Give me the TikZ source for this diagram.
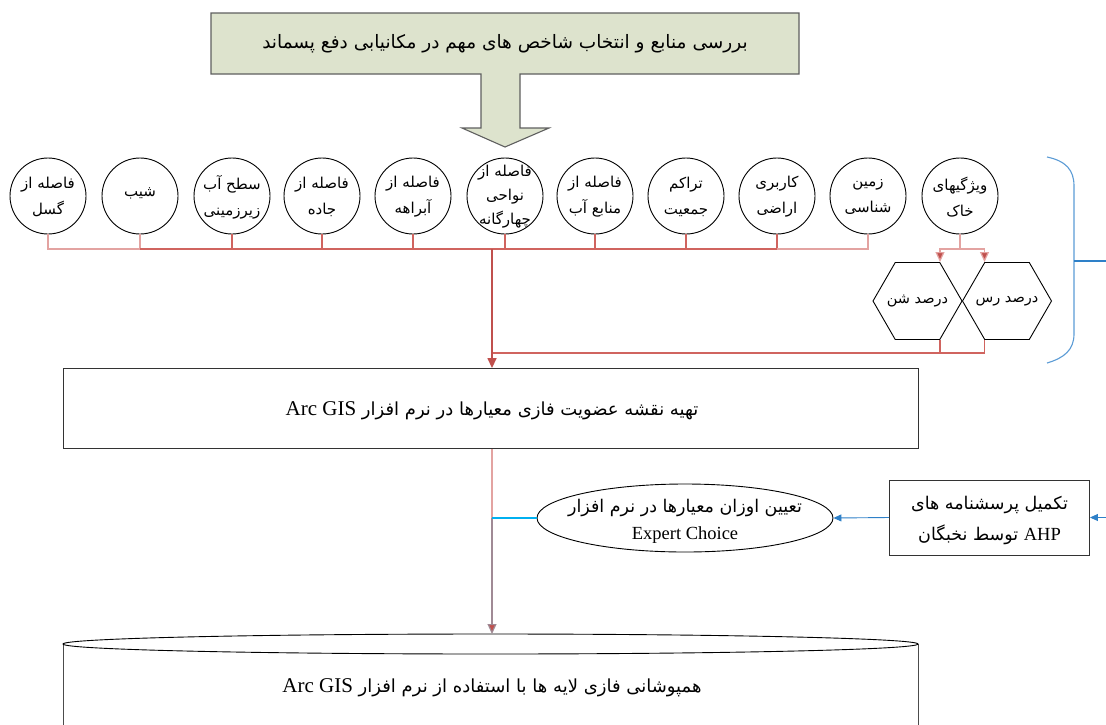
\documentclass[tikz,border=0pt]{standalone}
\usepackage{fontspec}
\setmainfont{Liberation Serif}
\newfontfamily\arabicfont[Script=Arabic]{DejaVu Sans}
\TeXXeTstate=1
\usetikzlibrary{shapes.geometric,arrows.meta,calc}
\newcommand{\fa}[1]{{\arabicfont\beginR #1\endR}}
\definecolor{olivefill}{HTML}{DDE3CD}
\definecolor{olivedraw}{HTML}{5F5F5F}
\definecolor{redline}{HTML}{C0504D}
\definecolor{darkbus}{HTML}{D0645F}
\definecolor{lightred}{HTML}{E3A3A1}
\definecolor{mauve}{HTML}{A08A95}
\definecolor{cyanline}{HTML}{00B0F0}
\definecolor{blueline}{HTML}{2E80C8}
\definecolor{bracecol}{HTML}{5B9BD5}
\begin{document}
\begin{tikzpicture}[x=1pt,y=-1pt,line width=0.9pt,
  crit/.style={circle,draw=black,minimum size=76pt,inner sep=0pt,fill=white},
  crittext/.style={align=center,inner sep=0pt,font=\fontsize{15}{26}\selectfont},
  hexa/.style={regular polygon,regular polygon sides=6,draw=black,minimum size=89pt,inner sep=0pt},
  plainbox/.style={draw=black!80,fill=white},
  redtip/.style={-{Triangle[length=10pt,width=9pt,fill=redline]}},
  bluetip/.style={-{Triangle[length=8pt,width=7pt,fill=blueline]}},
  lbus/.style={draw=lightred,line width=1.2pt},
  dbus/.style={draw=darkbus,line width=1.2pt}]
\useasboundingbox (0,0) rectangle (1106,724);

% top callout
\draw[fill=olivefill,draw=olivedraw,line width=1.1pt] (211,13) -- (799,13) -- (799,74) -- (520,74) -- (520,128) -- (549,128) -- (505,147) -- (462,128) -- (481,128) -- (481,74) -- (211,74) -- cycle;
\node[font=\fontsize{18.5}{22}\selectfont] (topt) at (505,44) {\fa{بررسی منابع و انتخاب شاخص های مهم در مکانیابی دفع پسماند}};

% criteria circles
\node[crit] (c1) at (48,196) {};
\node[crit] (c2) at (140,196) {};
\node[crit] (c3) at (232,196) {};
\node[crit] (c4) at (322,196) {};
\node[crit] (c5) at (413,196) {};
\node[crit] (c6) at (505,196) {};
\node[crit] (c7) at (595,196) {};
\node[crit] (c8) at (686,196) {};
\node[crit] (c9) at (777,196) {};
\node[crit] (c10) at (868,196) {};
\node[crit] (c11) at (960,196) {};
\node[crittext] (t1) at (48,197) {\fa{فاصله از}\\\fa{گسل}};
\node[crittext] (t2) at (140,193) {\fa{شیب}};
\node[crittext] (t3) at (232,197) {\fa{سطح آب}\\\fa{زیرزمینی}};
\node[crittext] (t4) at (322,197) {\fa{فاصله از}\\\fa{جاده}};
\node[crittext] (t5) at (413,197) {\fa{فاصله از}\\\fa{آبراهه}};
\node[crittext,font=\fontsize{15}{24}\selectfont] (t6) at (505,197) {\fa{فاصله از}\\\fa{نواحی}\\\fa{چهارگانه}};
\node[crittext] (t7) at (595,197) {\fa{فاصله از}\\\fa{منابع آب}};
\node[crittext] (t8) at (686,197) {\fa{تراکم}\\\fa{جمعیت}};
\node[crittext] (t9) at (777,197) {\fa{کاربری}\\\fa{اراضی}};
\node[crittext] (t10) at (868,197) {\fa{زمین}\\\fa{شناسی}};
\node[crittext] (t11) at (960,197) {\fa{ویژگیهای}\\\fa{خاک}};

% bus
\coordinate (bus) at (492,249);
\coordinate (sb) at (960,249);
\coordinate (ret) at (492,353);
\draw[lbus] (c1.south) |- (c2.south |- bus) -- (c2.south);
\draw[dbus] (c2.south |- bus) -- (c9.south |- bus);
\foreach \c in {c3,c4,c5,c6,c7,c8,c9} \draw[dbus] (\c.south) -- (\c.south |- bus);
\draw[lbus] (c9.south |- bus) -| (c10.south);

% hexagons
\node[hexa] (h1) at (917.5,301) {};
\node[hexa] (h2) at (1007,301) {};
\node[font=\fontsize{14.5}{16}\selectfont] (h1t) at (h1) {\fa{درصد شن}};
\node[font=\fontsize{14.5}{16}\selectfont] (h2t) at (h2) {\fa{درصد رس}};
\draw[lbus] (c11.south) -- (sb);
\draw[lbus,redtip] (sb) -| (h1.corner 1);
\draw[lbus,redtip] (sb) -| (h2.corner 2);
\draw[dbus] (h1.corner 5) -- (h1.corner 5 |- ret);
\draw[dbus] (h2.corner 4) |- (ret);

% box 1
\node[plainbox,minimum width=855pt,minimum height=80pt,inner sep=0pt] (box1) at (490.5,408.5) {};
\node[font=\fontsize{18}{22}\selectfont] (box1t) at (492,411) {\fa{تهیه نقشه عضویت فازی معیارها در نرم افزار \beginL{\fontsize{21}{22}\selectfont\rmfamily Arc GIS}\endL}};
\draw[draw=redline,line width=1.5pt,redtip] (bus) -- (bus |- box1.north);

% ellipse
\node[ellipse,draw=black,minimum width=296pt,minimum height=68pt,inner sep=0pt,fill=white] (e1) at (685,518) {};
\node[align=center,font=\fontsize{17.5}{27}\selectfont] (e1t) at (685,521) {\fa{تعیین اوزان معیارها در نرم افزار}\\{\fontsize{18.5}{27}\selectfont\rmfamily Expert Choice}};

% right box
\node[plainbox,minimum width=200pt,minimum height=75pt,inner sep=0pt] (r1) at (989.5,517.5) {};
\node[align=center,font=\fontsize{17.5}{31}\selectfont] (r1t) at (989.5,520) {\fa{تکمیل پرسشنامه های}\\\fa{\beginL{\fontsize{18.5}{20}\selectfont\rmfamily AHP}\endL{} توسط نخبگان}};
\coordinate (rin) at (1106,517.5);
\draw[draw=blueline,bluetip] (rin) -- (r1.east);
\draw[draw=blueline,bluetip] (r1.west) -- (e1.east);

% cylinder
\coordinate (j) at (492,518);
\coordinate (cyltop) at (492,634);
\fill[white] (63,644) -- (63,730) -- (918,730) -- (918,644) -- cycle;
\draw[draw=black!70] (63,644) -- (63,730);
\draw[draw=black!70] (918,644) -- (918,730);
\draw[draw=black,fill=white] (490.5,644) ellipse [x radius=427.5pt,y radius=10pt];
\node[font=\fontsize{18}{22}\selectfont] (cylt) at (492,688) {\fa{همپوشانی فازی لایه ها با استفاده از نرم افزار \beginL{\fontsize{21}{22}\selectfont\rmfamily Arc GIS}\endL}};

% lower connectors
\draw[draw=lightred,line width=1.2pt] (j |- box1.south) -- (j);
\draw[draw=mauve,line width=1.2pt,redtip] (j) -- (cyltop);
\draw[draw=cyanline,line width=1.1pt] (j) -- (e1.west);

% brace
\draw[draw=bracecol,line width=1.1pt] (1047,157) .. controls (1066,161) and (1074,170) .. (1074,186) -- (1074,334) .. controls (1074,350) and (1064,358) .. (1047,363);
\coordinate (bout) at (1106,261);
\draw[draw=blueline,line width=1.6pt] (1074,261) -- (bout);
\end{tikzpicture}
\end{document}
